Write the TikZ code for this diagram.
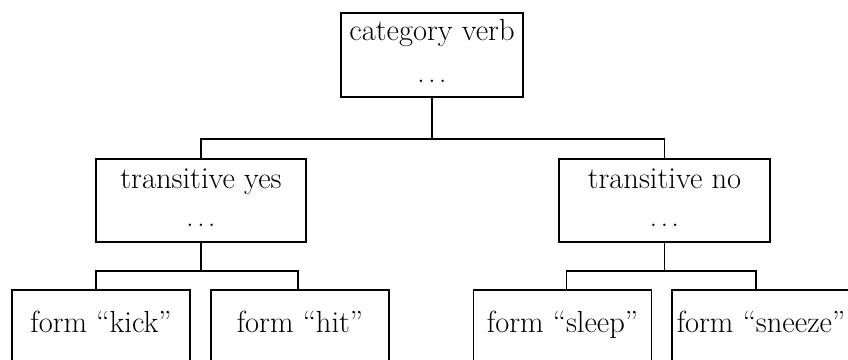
\documentclass[tikz,border=0pt]{standalone}
\usepackage{tikz}

\begin{document}
\begin{tikzpicture}[
    x=1pt,y=-1pt,
    featbox/.style={draw=black, line width=1.5pt, align=center, font=\fontsize{30.5}{42}\selectfont, minimum height=84pt, text depth=8pt},
    midbox/.style={featbox, font=\fontsize{30.5}{38}\selectfont, minimum height=83pt, text depth=6pt},
    formbox/.style={featbox, minimum width=178pt, text depth=20pt},
    link/.style={draw=black, line width=1.5pt}
  ]
    \useasboundingbox (0,0) rectangle (848,359);
    \clip (0,0) rectangle (848,359);

    \node[featbox, minimum width=182pt] (verb) at (432,55) {category verb\\ $\ldots$};

    \node[midbox, minimum width=210pt] (trans) at (201,200.5) {transitive yes\\ $\ldots$};
    \node[midbox, minimum width=211pt] (intrans) at (664.5,200.5) {transitive no\\ $\ldots$};

    \node[formbox] (kick) at (101,332) {form ``kick''};
    \node[formbox] (hit) at (300,332) {form ``hit''};
    \node[formbox] (sleep) at (562.5,332) {form ``sleep''};
    \node[formbox] (sneeze) at (761,332) {form ``sneeze''};

    \draw[link] (verb.south) -- ++(0,41) coordinate (topbar) -| (trans.north);
    \draw[link] (topbar) -| (intrans.north);

    \draw[link] (trans.south) -- ++(0,28) coordinate (leftbar) -| ([xshift=-5pt]kick.north);
    \draw[link] (leftbar) -| ([xshift=-2pt]hit.north);

    \draw[link] (intrans.south) -- ++(0,28) coordinate (rightbar) -| ([xshift=4pt]sleep.north);
    \draw[link] (rightbar) -| ([xshift=-5pt]sneeze.north);
  \end{tikzpicture}
\end{document}
